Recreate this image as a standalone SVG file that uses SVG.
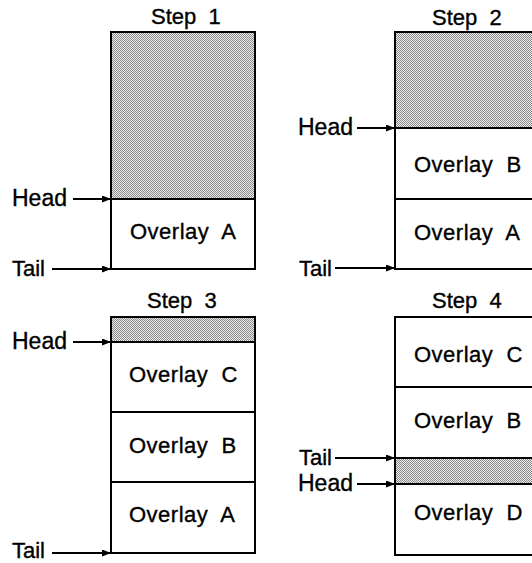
<svg xmlns="http://www.w3.org/2000/svg" width="532" height="563" viewBox="0 0 532 563" xml:space="preserve">
<style>
text{font-family:"Liberation Sans",Arial,Helvetica,sans-serif;font-size:22px;fill:#000;stroke:#000;stroke-width:0.35;white-space:pre}
.lbl{font-size:23px}
.ov{letter-spacing:0.5px}
.box{fill:#fff;stroke:#000;stroke-width:2}
.shade{fill:url(#stip);stroke:none}
.div{stroke:#000;stroke-width:2;fill:none}
.arr{stroke:#000;stroke-width:2.2;fill:none;marker-end:url(#ah)}
</style>
<defs>
<pattern id="stip" x="0" y="0" width="2" height="2" patternUnits="userSpaceOnUse">
<rect width="2" height="2" fill="#ececec"/>
<rect x="0" y="0" width="1" height="1" fill="#8a8a8a"/>
<rect x="1" y="1" width="1" height="1" fill="#8a8a8a"/>
</pattern>
<marker id="ah" markerWidth="9" markerHeight="7" refX="9" refY="3.5" orient="auto" markerUnits="userSpaceOnUse">
<path d="M0,0 L9,3.5 L0,7 Z" fill="#000"/>
</marker>
</defs>
<g id="step1">
<text x="151" y="24">Step  1</text>
<rect class="box" x="111" y="32" width="144" height="237"/>
<rect class="shade" x="112" y="33" width="142" height="166"/>
<line class="div" x1="111" y1="199" x2="255" y2="199"/>
<text class="ov" x="130" y="239">Overlay  A</text>
</g>
<g id="step2">
<text x="432" y="25">Step  2</text>
<rect class="box" x="395" y="32" width="150" height="237"/>
<rect class="shade" x="396" y="33" width="148" height="95"/>
<line class="div" x1="395" y1="128" x2="545" y2="128"/>
<line class="div" x1="395" y1="199" x2="545" y2="199"/>
<text class="ov" x="414" y="172">Overlay  B</text>
<text class="ov" x="414" y="240">Overlay  A</text>
</g>
<g id="step3">
<text x="147" y="308">Step  3</text>
<rect class="box" x="111" y="317" width="144" height="236"/>
<rect class="shade" x="112" y="318" width="142" height="24"/>
<line class="div" x1="111" y1="342" x2="255" y2="342"/>
<line class="div" x1="111" y1="412" x2="255" y2="412"/>
<line class="div" x1="111" y1="482" x2="255" y2="482"/>
<text class="ov" x="129" y="382">Overlay  C</text>
<text class="ov" x="129" y="453">Overlay  B</text>
<text class="ov" x="129" y="522">Overlay  A</text>
</g>
<g id="step4">
<text x="432" y="308">Step  4</text>
<rect class="box" x="395" y="317" width="150" height="238"/>
<rect class="shade" x="396" y="458" width="148" height="26"/>
<line class="div" x1="395" y1="387" x2="545" y2="387"/>
<line class="div" x1="395" y1="458" x2="545" y2="458"/>
<line class="div" x1="395" y1="484" x2="545" y2="484"/>
<text class="ov" x="414" y="362">Overlay  C</text>
<text class="ov" x="414" y="428">Overlay  B</text>
<text class="ov" x="414" y="520">Overlay  D</text>
</g>
<g id="connectors">
<line class="arr" x1="73" y1="199" x2="111" y2="199"/>
<line class="arr" x1="52" y1="269" x2="111" y2="269"/>
<line class="arr" x1="357" y1="128" x2="395" y2="128"/>
<line class="arr" x1="335" y1="268" x2="395" y2="268"/>
<line class="arr" x1="73" y1="342" x2="111" y2="342"/>
<line class="arr" x1="52" y1="553" x2="111" y2="553"/>
<line class="arr" x1="335" y1="458" x2="395" y2="458"/>
<line class="arr" x1="357" y1="484" x2="395" y2="484"/>
</g>
<g id="labels">
<text class="lbl" x="12" y="206">Head</text>
<text x="12" y="276">Tail</text>
<text class="lbl" x="298" y="135">Head</text>
<text x="299" y="276">Tail</text>
<text class="lbl" x="12" y="349">Head</text>
<text x="12" y="558">Tail</text>
<text x="299" y="465">Tail</text>
<text class="lbl" x="298" y="491">Head</text>
</g>
</svg>
